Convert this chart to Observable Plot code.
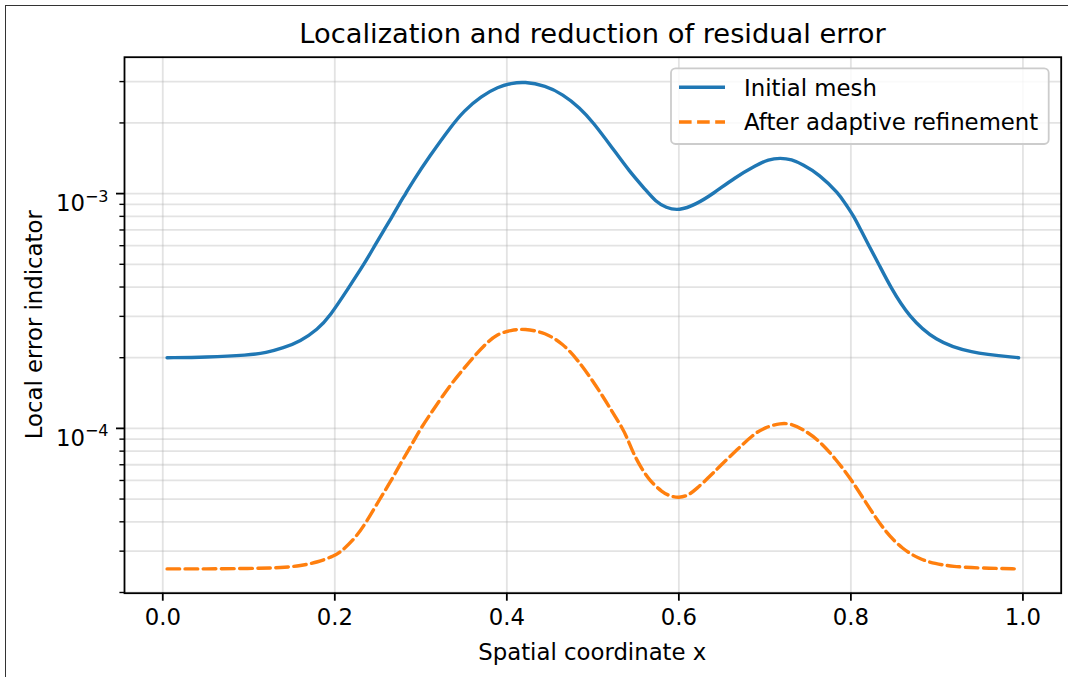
<!DOCTYPE html>
<html>
<head>
<meta charset="utf-8">
<script src="https://cdn.jsdelivr.net/npm/d3@7"></script>
<script src="https://cdn.jsdelivr.net/npm/@observablehq/plot@0.6"></script>
<style>
  html, body { margin: 0; padding: 0; background: #fff; overflow: hidden; width: 1068px; height: 677px; }
  body { position: relative; font-family: "DejaVu Sans", sans-serif; }
  #border { position: absolute; z-index: 10; left: 5px; top: 5px; width: 1200px; height: 800px; border-left: 1px solid #333; border-top: 1px solid #333; pointer-events: none; }
  #title { position: absolute; left: 124px; top: 0; width: 937px; height: 50px; box-sizing: border-box; padding-top: 18px;
           font-size: 27.3px; line-height: 1.164; text-align: center; color: #000; white-space: nowrap; }
  #chart { position: absolute; left: 0; top: 50px; }
</style>
</head>
<body>
<div id="border"></div>
<div id="title">Localization and reduction of residual error</div>
<div id="chart"></div>
<script>
// ---- data ----
const xInitial = [0.005, 0.05, 0.10, 0.12, 0.14, 0.16, 0.18, 0.1942, 0.2166, 0.234, 0.2464, 0.2572, 0.2669, 0.2746, 0.2824, 0.2909, 0.31, 0.335, 0.35, 0.37, 0.39, 0.405, 0.42, 0.445, 0.465, 0.485, 0.50, 0.523, 0.542, 0.562, 0.573, 0.585, 0.60, 0.62, 0.64, 0.665, 0.69, 0.704, 0.718, 0.731, 0.744, 0.763, 0.786, 0.794, 0.8035, 0.8115, 0.821, 0.8325, 0.846, 0.867, 0.898, 0.937, 0.995];
const errInitial = [2.0e-4, 2.01e-4, 2.05e-4, 2.1e-4, 2.2e-4, 2.35e-4, 2.64e-4, 3.0e-4, 4.0e-4, 5.0e-4, 6.0e-4, 7.0e-4, 8.0e-4, 9.0e-4, 1.0e-3, 1.13e-3, 1.44e-3, 1.93e-3, 2.25e-3, 2.6e-3, 2.85e-3, 2.95e-3, 3.0e-3, 2.88e-3, 2.65e-3, 2.32e-3, 2.02e-3, 1.56e-3, 1.25e-3, 1.03e-3, 9.25e-4, 8.7e-4, 8.45e-4, 9.0e-4, 1.0e-3, 1.17e-3, 1.32e-3, 1.40e-3, 1.42e-3, 1.40e-3, 1.33e-3, 1.21e-3, 1.0e-3, 9.0e-4, 8.0e-4, 7.0e-4, 6.0e-4, 5.0e-4, 4.0e-4, 3.0e-4, 2.36e-4, 2.1e-4, 2.0e-4];

const xRefined = [0.005, 0.05, 0.10, 0.14, 0.16, 0.18, 0.20, 0.208, 0.2235, 0.237, 0.2522, 0.2658, 0.2755, 0.2851, 0.2929, 0.300, 0.311, 0.3335, 0.348, 0.3605, 0.375, 0.388, 0.405, 0.42, 0.445, 0.465, 0.4806, 0.504, 0.523, 0.5346, 0.5405, 0.546, 0.554, 0.5656, 0.581, 0.59, 0.60, 0.61, 0.62, 0.639, 0.6466, 0.666, 0.686, 0.70, 0.7185, 0.731, 0.7436, 0.763, 0.7823, 0.80, 0.821, 0.8404, 0.8597, 0.879, 0.898, 0.918, 0.95, 0.995];
const errRefined = [2.52e-5, 2.52e-5, 2.53e-5, 2.55e-5, 2.6e-5, 2.69e-5, 2.87e-5, 3.0e-5, 3.4e-5, 4.0e-5, 5.0e-5, 6.0e-5, 7.0e-5, 8.0e-5, 9.0e-5, 1.0e-4, 1.15e-4, 1.52e-4, 1.76e-4, 2.0e-4, 2.28e-4, 2.52e-4, 2.62e-4, 2.66e-4, 2.56e-4, 2.29e-4, 2.0e-4, 1.52e-4, 1.17e-4, 1.0e-4, 9.0e-5, 8.0e-5, 7.0e-5, 6.0e-5, 5.34e-5, 5.14e-5, 5.06e-5, 5.16e-5, 5.5e-5, 6.4e-5, 6.85e-5, 8.0e-5, 9.4e-5, 1.01e-4, 1.055e-4, 1.045e-4, 9.95e-5, 8.9e-5, 7.4e-5, 6.1e-5, 4.6e-5, 3.61e-5, 3.07e-5, 2.78e-5, 2.65e-5, 2.58e-5, 2.54e-5, 2.52e-5];

const seriesNames = ["Initial mesh", "After adaptive refinement"];
const xTicks = [0.0, 0.2, 0.4, 0.6, 0.8, 1.0];
const yMajorTicks = [1e-4, 1e-3];
const yMinorTicks = [2e-5, 3e-5, 4e-5, 5e-5, 6e-5, 7e-5, 8e-5, 9e-5, 2e-4, 3e-4, 4e-4, 5e-4, 6e-4, 7e-4, 8e-4, 9e-4, 2e-3, 3e-3];
const titleText = "Localization and reduction of residual error";
const xLabel = "Spatial coordinate x";
const yLabel = "Local error indicator";

// ---- build ----
const initial = xInitial.map((x, i) => ({x, v: errInitial[i]}));
const refined = xRefined.map((x, i) => ({x, v: errRefined[i]}));
const BLUE = "#1f77b4", ORANGE = "#ff7f0e";
const FS = 22.8;
const DASH = "12.6 5.5";

const plot = Plot.plot({
  width: 1068,
  height: 627,
  marginLeft: 124,
  marginRight: 7.3,
  marginTop: 6.7,
  marginBottom: 84.3,
  style: {fontFamily: "DejaVu Sans, sans-serif", fontSize: FS + "px", color: "#000", background: "#fff"},
  x: {domain: [-0.0445, 1.0445]},
  y: {type: "log", domain: [Math.pow(10, -4.702), Math.pow(10, -2.419)]},
  marks: [
    Plot.gridY({ticks: [...yMajorTicks, ...yMinorTicks], stroke: "#b0b0b0", strokeOpacity: 0.35, strokeWidth: 1.8}),
    Plot.gridX({ticks: xTicks, stroke: "#b0b0b0", strokeOpacity: 0.35, strokeWidth: 1.8}),
    Plot.line(initial, {x: "x", y: "v", stroke: BLUE, strokeWidth: 3.4, curve: "basis"}),
    Plot.line(refined, {x: "x", y: "v", stroke: ORANGE, strokeWidth: 3.4, strokeDasharray: DASH, curve: "basis"}),
    Plot.frame({stroke: "#000", strokeWidth: 1.8}),
    Plot.axisX({ticks: xTicks, tickSize: 8, tickPadding: 8, strokeWidth: 1.8, fontSize: FS, tickFormat: d3.format(".1f"), label: null}),
    Plot.axisY({ticks: yMajorTicks, tickSize: 8, tickPadding: 8, strokeWidth: 1.8, fontSize: FS,
                tickFormat: d => "10^" + Math.round(Math.log10(d)), label: null}),
    Plot.axisY({ticks: yMinorTicks, tickSize: 4.6, strokeWidth: 1.4, tickFormat: () => "", label: null})
  ]
});
document.getElementById("chart").appendChild(plot);

const svg = d3.select(plot);

// matplotlib-style superscript tick labels
svg.selectAll('g[aria-label="y-axis tick label"] text').each(function() {
  const t = d3.select(this);
  const m = (this.textContent || "").match(/^10\^(-?\d+)$/);
  if (!m) return;
  t.selectAll("*").remove();
  t.text(null);
  t.attr("dy", 10);
  t.append("tspan").text("10");
  t.append("tspan").attr("dy", -9.3).attr("font-size", 16).text(m[1].replace("-", "\u2212"));
});

// axis labels
svg.append("text")
  .attr("transform", "translate(42,274.7) rotate(-90)")
  .attr("text-anchor", "middle").attr("font-size", FS).attr("fill", "#000")
  .text(yLabel);
svg.append("text")
  .attr("x", 592.3).attr("y", 610.3)
  .attr("text-anchor", "middle").attr("font-size", FS).attr("fill", "#000")
  .text(xLabel);

// legend
const lg = svg.append("g").attr("aria-label", "legend");
lg.append("rect").attr("x", 671).attr("y", 18.3).attr("width", 377.7).attr("height", 75.7).attr("rx", 4.5)
  .attr("fill", "#fff").attr("fill-opacity", 0.8).attr("stroke", "#cccccc").attr("stroke-width", 1.8);
const rows = [{name: seriesNames[0], color: BLUE, dash: null, y: 37.3},
              {name: seriesNames[1], color: ORANGE, dash: DASH, y: 72}];
rows.forEach(r => {
  lg.append("line").attr("x1", 679).attr("x2", 725).attr("y1", r.y).attr("y2", r.y)
    .attr("stroke", r.color).attr("stroke-width", 3.4).attr("stroke-dasharray", r.dash);
  lg.append("text").attr("x", 744).attr("y", r.y + 8.4).attr("text-anchor", "start")
    .attr("font-size", FS).attr("fill", "#000").text(r.name);
});
document.getElementById("title").textContent = titleText;
</script>
</body>
</html>
